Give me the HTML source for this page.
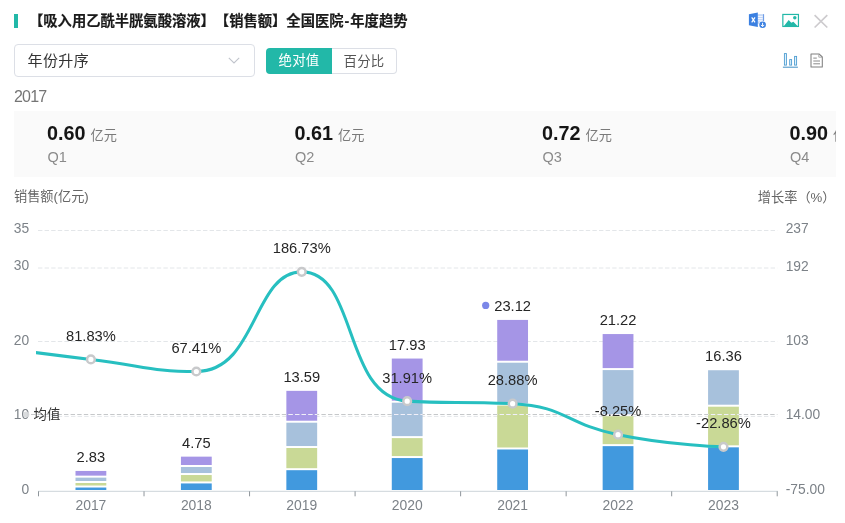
<!DOCTYPE html>
<html lang="zh-CN"><head><meta charset="utf-8"><title>年度趋势</title>
<style>
html,body{margin:0;padding:0;background:#fff;}
body{width:845px;height:523px;position:relative;overflow:hidden;font-family:"Liberation Sans","Noto Sans CJK SC",sans-serif;color:#333;}
.abs{position:absolute;white-space:nowrap;}
.bar{left:14.2px;top:14.2px;width:3.5px;height:14px;background:#22b8a8;}
.title{text-spacing-trim:space-all;left:29px;top:10px;font-size:14.3px;font-weight:bold;line-height:22px;color:#1a1a1a;-webkit-text-stroke:0.2px #1a1a1a;}
.select{left:14px;top:44.3px;width:238.7px;height:31px;border:1px solid #dcdfe6;border-radius:4px;background:#fff;}
.select span{position:absolute;left:12.5px;top:0;line-height:31px;font-size:15px;letter-spacing:0.4px;color:#333;}
.select svg{position:absolute;left:213.2px;top:11.5px;}
.btn1{left:266px;top:48px;width:66px;height:25.5px;background:#22b8a8;border-radius:4px 0 0 4px;color:#fff;font-size:13.4px;letter-spacing:0.2px;line-height:26.5px;text-align:center;}
.btn2{left:332px;top:48px;width:64px;height:23.5px;border:1px solid #dcdfe6;border-left:none;border-radius:0 4px 4px 0;color:#555;font-size:13.4px;letter-spacing:0.2px;line-height:25.5px;text-align:center;background:#fff;}
.year{left:14px;top:86.6px;font-size:16px;letter-spacing:-0.8px;line-height:20px;color:#757575;}
.panel{left:14px;top:111px;width:822px;height:65.7px;background:#fafafa;overflow:hidden;}
.item{position:absolute;top:0;width:247.5px;white-space:nowrap;}
.item b{position:absolute;left:33px;top:9.8px;letter-spacing:0px;font-size:19.8px;line-height:24px;color:#151515;font-weight:bold;}
.item i{position:absolute;left:76.5px;top:14.6px;font-style:normal;font-size:13.2px;line-height:20px;color:#7a7a7a;}
.item em{position:absolute;left:33.5px;top:36.4px;font-style:normal;font-size:14.5px;line-height:20px;color:#8a8a8a;}
.yl{left:14px;top:187px;font-size:13.2px;line-height:20px;color:#666;}
.yr{text-spacing-trim:space-all;right:9.5px;top:187.5px;font-size:13.2px;line-height:20px;color:#666;}
.chart{position:absolute;left:0;top:0;}
.ico{position:absolute;}
</style></head><body>
<div class="abs bar"></div>
<div class="abs title">【吸入用乙酰半胱氨酸溶液】【销售额】全国医院<span style="margin:0 1px">-</span>年度趋势</div>
<div class="abs select"><span>年份升序</span><svg width="12" height="7" viewBox="0 0 12 7"><path d="M0.8 0.8 L6 6 L11.2 0.8" fill="none" stroke="#c0c4cc" stroke-width="1.1"/></svg></div>
<div class="abs btn1">绝对值</div>
<div class="abs btn2">百分比</div>
<div class="abs year">2017</div>
<div class="abs panel">
<div class="item" style="left:0"><b>0.60</b><i>亿元</i><em>Q1</em></div>
<div class="item" style="left:247.5px"><b>0.61</b><i>亿元</i><em>Q2</em></div>
<div class="item" style="left:495px"><b>0.72</b><i>亿元</i><em>Q3</em></div>
<div class="item" style="left:742.5px"><b>0.90</b><i>亿元</i><em>Q4</em></div>
</div>
<div class="abs yl">销售额(亿元)</div>
<div class="abs yr">增长率（%）</div>
<svg class="chart" width="845" height="523" viewBox="0 0 845 523" font-family='"Liberation Sans","Noto Sans CJK SC",sans-serif'>
<line x1="38.0" x2="777.4" y1="416.40" y2="416.40" stroke="#e3e6e9" stroke-width="1" stroke-dasharray="4.4 2.2"/>
<line x1="38.0" x2="777.4" y1="341.50" y2="341.50" stroke="#e3e6e9" stroke-width="1" stroke-dasharray="4.4 2.2"/>
<line x1="38.0" x2="777.4" y1="268.00" y2="268.00" stroke="#e3e6e9" stroke-width="1" stroke-dasharray="4.4 2.2"/>
<line x1="38.0" x2="777.4" y1="230.50" y2="230.50" stroke="#e3e6e9" stroke-width="1" stroke-dasharray="4.4 2.2"/>
<line x1="38" x2="777.8" y1="491.3" y2="491.3" stroke="#ccd4d9" stroke-width="1"/>
<line x1="38.50" x2="38.50" y1="491.3" y2="496.3" stroke="#8f969b" stroke-width="1"/>
<line x1="144.03" x2="144.03" y1="491.3" y2="496.3" stroke="#8f969b" stroke-width="1"/>
<line x1="249.56" x2="249.56" y1="491.3" y2="496.3" stroke="#8f969b" stroke-width="1"/>
<line x1="355.09" x2="355.09" y1="491.3" y2="496.3" stroke="#8f969b" stroke-width="1"/>
<line x1="460.62" x2="460.62" y1="491.3" y2="496.3" stroke="#8f969b" stroke-width="1"/>
<line x1="566.15" x2="566.15" y1="491.3" y2="496.3" stroke="#8f969b" stroke-width="1"/>
<line x1="671.68" x2="671.68" y1="491.3" y2="496.3" stroke="#8f969b" stroke-width="1"/>
<line x1="777.21" x2="777.21" y1="491.3" y2="496.3" stroke="#8f969b" stroke-width="1"/>
<text x="29.2" y="493.70" text-anchor="end" font-size="13.8" fill="#7c8288">0</text>
<text x="29.2" y="419.27" text-anchor="end" font-size="13.8" fill="#7c8288">10</text>
<text x="29.2" y="344.84" text-anchor="end" font-size="13.8" fill="#7c8288">20</text>
<text x="29.2" y="270.41" text-anchor="end" font-size="13.8" fill="#7c8288">30</text>
<text x="29.2" y="233.20" text-anchor="end" font-size="13.8" fill="#7c8288">35</text>
<text x="785.7" y="493.70" font-size="13.8" fill="#7c8288">-75.00</text>
<text x="785.7" y="419.39" font-size="13.8" fill="#7c8288">14.00</text>
<text x="785.7" y="345.08" font-size="13.8" fill="#7c8288">103</text>
<text x="785.7" y="270.77" font-size="13.8" fill="#7c8288">192</text>
<text x="785.7" y="233.20" font-size="13.8" fill="#7c8288">237</text>
<text x="90.90" y="509.5" text-anchor="middle" font-size="13.9" fill="#7c8288">2017</text>
<text x="196.33" y="509.5" text-anchor="middle" font-size="13.9" fill="#7c8288">2018</text>
<text x="301.76" y="509.5" text-anchor="middle" font-size="13.9" fill="#7c8288">2019</text>
<text x="407.19" y="509.5" text-anchor="middle" font-size="13.9" fill="#7c8288">2020</text>
<text x="512.62" y="509.5" text-anchor="middle" font-size="13.9" fill="#7c8288">2021</text>
<text x="618.05" y="509.5" text-anchor="middle" font-size="13.9" fill="#7c8288">2022</text>
<text x="723.48" y="509.5" text-anchor="middle" font-size="13.9" fill="#7c8288">2023</text>
<rect x="75.50" y="487.53" width="30.8" height="2.47" fill="#4199de"/>
<rect x="75.50" y="482.99" width="30.8" height="2.54" fill="#c9d996"/>
<rect x="75.50" y="477.64" width="30.8" height="3.36" fill="#a7c1dc"/>
<rect x="75.50" y="470.94" width="30.8" height="4.70" fill="#a595e6"/>
<text x="90.90" y="462.14" text-anchor="middle" font-size="14.7" fill="#262626">2.83</text>
<rect x="180.93" y="483.44" width="30.8" height="6.56" fill="#4199de"/>
<rect x="180.93" y="475.03" width="30.8" height="6.41" fill="#c9d996"/>
<rect x="180.93" y="466.99" width="30.8" height="6.04" fill="#a7c1dc"/>
<rect x="180.93" y="456.65" width="30.8" height="8.35" fill="#a595e6"/>
<text x="196.33" y="447.85" text-anchor="middle" font-size="14.7" fill="#262626">4.75</text>
<rect x="286.36" y="470.19" width="30.8" height="19.81" fill="#4199de"/>
<rect x="286.36" y="448.01" width="30.8" height="20.18" fill="#c9d996"/>
<rect x="286.36" y="422.71" width="30.8" height="23.31" fill="#a7c1dc"/>
<rect x="286.36" y="390.85" width="30.8" height="29.86" fill="#a595e6"/>
<text x="301.76" y="382.05" text-anchor="middle" font-size="14.7" fill="#262626">13.59</text>
<rect x="391.79" y="458.06" width="30.8" height="31.94" fill="#4199de"/>
<rect x="391.79" y="438.11" width="30.8" height="17.95" fill="#c9d996"/>
<rect x="391.79" y="402.69" width="30.8" height="33.43" fill="#a7c1dc"/>
<rect x="391.79" y="358.55" width="30.8" height="42.14" fill="#a595e6"/>
<text x="407.19" y="349.75" text-anchor="middle" font-size="14.7" fill="#262626">17.93</text>
<rect x="497.22" y="449.50" width="30.8" height="40.50" fill="#4199de"/>
<rect x="497.22" y="405.51" width="30.8" height="41.99" fill="#c9d996"/>
<rect x="497.22" y="362.72" width="30.8" height="40.80" fill="#a7c1dc"/>
<rect x="497.22" y="319.92" width="30.8" height="40.80" fill="#a595e6"/>
<text x="512.62" y="311.12" text-anchor="middle" font-size="14.7" fill="#262626">23.12</text>
<rect x="602.65" y="446.15" width="30.8" height="43.85" fill="#4199de"/>
<rect x="602.65" y="416.23" width="30.8" height="27.92" fill="#c9d996"/>
<rect x="602.65" y="370.09" width="30.8" height="44.15" fill="#a7c1dc"/>
<rect x="602.65" y="334.06" width="30.8" height="34.02" fill="#a595e6"/>
<text x="618.05" y="325.26" text-anchor="middle" font-size="14.7" fill="#262626">21.22</text>
<rect x="708.08" y="447.34" width="30.8" height="42.66" fill="#4199de"/>
<rect x="708.08" y="406.70" width="30.8" height="38.64" fill="#c9d996"/>
<rect x="708.08" y="370.23" width="30.8" height="34.47" fill="#a7c1dc"/>
<text x="723.48" y="361.43" text-anchor="middle" font-size="14.7" fill="#262626">16.36</text>
<circle cx="485.7" cy="305.4" r="3.6" fill="#7b87e8"/>
<circle cx="26.3" cy="414.5" r="3.0" fill="#d6d8da" opacity="0.92"/>
<line x1="31" x2="777.4" y1="414.5" y2="414.5" stroke="#c6c8ca" stroke-width="1" stroke-dasharray="4.4 2.2"/>
<clipPath id="bc"><rect x="286.36" y="389.85" width="30.8" height="101.15"/><rect x="391.79" y="357.55" width="30.8" height="133.45"/><rect x="497.22" y="318.92" width="30.8" height="172.08"/><rect x="602.65" y="333.06" width="30.8" height="157.94"/><rect x="708.08" y="369.23" width="30.8" height="121.77"/></clipPath>
<line x1="31" x2="777.4" y1="414.5" y2="414.5" stroke="#f1f0fa" stroke-width="1.1" stroke-dasharray="4.4 2.2" clip-path="url(#bc)"/>
<clipPath id="gc"><rect x="36.1" y="200" width="760" height="300"/></clipPath>
<path d="M-14.53,345.96 C-14.53,345.96 38.14,353.07 90.90,359.46 C143.57,365.84 151.79,371.50 196.33,371.50 C257.22,371.50 252.72,271.87 301.76,271.87 C358.15,271.87 342.60,397.14 407.19,401.14 C448.03,403.67 460.99,401.14 512.62,403.67 C566.42,406.30 564.42,423.68 618.05,434.67 C669.85,445.28 723.48,446.87 723.48,446.87" fill="none" stroke="#27bfc0" stroke-width="3.05" stroke-linejoin="round" clip-path="url(#gc)"/>
<circle cx="90.90" cy="359.46" r="3.85" fill="#fff" stroke="#c8c9cb" stroke-width="2.5"/>
<text x="90.90" y="341.06" text-anchor="middle" font-size="14.7" fill="#262626">81.83%</text>
<circle cx="196.33" cy="371.50" r="3.85" fill="#fff" stroke="#c8c9cb" stroke-width="2.5"/>
<text x="196.33" y="353.10" text-anchor="middle" font-size="14.7" fill="#262626">67.41%</text>
<circle cx="301.76" cy="271.87" r="3.85" fill="#fff" stroke="#c8c9cb" stroke-width="2.5"/>
<text x="301.76" y="253.47" text-anchor="middle" font-size="14.7" fill="#262626">186.73%</text>
<circle cx="407.19" cy="401.14" r="3.85" fill="#fff" stroke="#c8c9cb" stroke-width="2.5"/>
<text x="407.19" y="382.74" text-anchor="middle" font-size="14.7" fill="#262626">31.91%</text>
<circle cx="512.62" cy="403.67" r="3.85" fill="#fff" stroke="#c8c9cb" stroke-width="2.5"/>
<text x="512.62" y="385.27" text-anchor="middle" font-size="14.7" fill="#262626">28.88%</text>
<circle cx="618.05" cy="434.67" r="3.85" fill="#fff" stroke="#c8c9cb" stroke-width="2.5"/>
<text x="618.05" y="416.27" text-anchor="middle" font-size="14.7" fill="#262626">-8.25%</text>
<circle cx="723.48" cy="446.87" r="3.85" fill="#fff" stroke="#c8c9cb" stroke-width="2.5"/>
<text x="723.48" y="428.47" text-anchor="middle" font-size="14.7" fill="#262626">-22.86%</text>
<text x="33.6" y="419" font-size="13.4" fill="#333">均值</text>
</svg>
<svg class="ico" style="left:0;top:0" width="845" height="80" viewBox="0 0 845 80">
<!-- excel -->
<rect x="757.2" y="14.2" width="6.6" height="9.6" fill="#c3d6f6"/>
<line x1="763.6" y1="14.2" x2="763.6" y2="22" stroke="#5b90e2" stroke-width="0.9"/>
<g stroke="#fff" stroke-width="0.9"><line x1="757.5" x2="762.6" y1="16.4" y2="16.4"/><line x1="757.5" x2="762.6" y1="18.6" y2="18.6"/><line x1="757.5" x2="762.6" y1="20.8" y2="20.8"/></g>
<path d="M748.9 14.2 L757.8 12.5 L757.8 26.9 L748.9 25.3 Z" fill="#3b80e1"/>
<path d="M751.7 17.3 L755 22.3 M755 17.3 L751.7 22.3" stroke="#fff" stroke-width="1.2" fill="none"/>
<circle cx="762.6" cy="24.8" r="3.9" fill="#fff"/>
<circle cx="762.6" cy="24.8" r="3.3" fill="#3b80e1"/>
<path d="M762.6 22.8 L762.6 26.2 M761 24.9 L762.6 26.6 L764.2 24.9" stroke="#fff" stroke-width="1" fill="none"/>
<!-- image -->
<rect x="782.85" y="14.45" width="15.6" height="12" fill="#fff" stroke="#22b8a8" stroke-width="1.2"/>
<path d="M783.6 26.4 L788.7 20 L791.3 22.7 L793.4 21.8 L798 26.4 Z" fill="#22b8a8"/>
<circle cx="794.8" cy="17.7" r="1.75" fill="#22b8a8"/>
<!-- close -->
<path d="M814.6 15.1 L827.3 27.5 M827.3 15.1 L814.6 27.5" stroke="#cdcbce" stroke-width="1.7" fill="none"/>
<!-- bars -->
<g fill="#e6f7ff" stroke="#4d9bd0" stroke-width="0.9">
<rect x="784.4" y="53.6" width="2" height="11.5"/>
<rect x="789.7" y="59.6" width="1.9" height="5.5"/>
<rect x="794.6" y="56.4" width="2" height="8.7"/>
</g>
<line x1="782.9" x2="797.9" y1="67.2" y2="67.2" stroke="#3f8fc6" stroke-width="1"/>
<!-- doc -->
<path d="M811 53.9 L819 53.9 L822.3 57 L822.3 67 L811 67 Z" fill="#fff" stroke="#808080" stroke-width="1.05" stroke-linejoin="round"/>
<path d="M818.8 54.2 L818.8 57.2 L822 57.2" fill="none" stroke="#9a9a9a" stroke-width="0.8"/>
<g stroke="#8a8a8a" stroke-width="1"><line x1="813.3" x2="816.8" y1="58.1" y2="58.1"/><line x1="813.3" x2="820" y1="61" y2="61"/><line x1="813.3" x2="820" y1="63.8" y2="63.8"/></g>
</svg>

</body></html>
